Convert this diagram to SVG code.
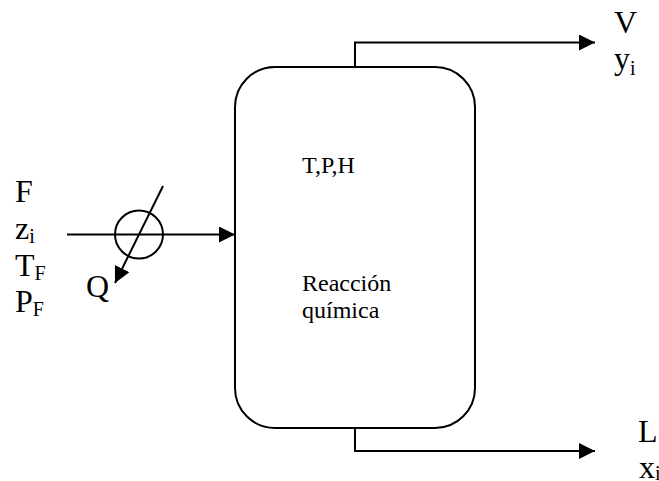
<svg xmlns="http://www.w3.org/2000/svg" width="659" height="481" viewBox="0 0 659 481">
<style>
text{font-family:"Liberation Serif","Times New Roman",serif;fill:#000}
.l{font-size:32px}.s{font-size:24px}.m{font-size:20px}
.c{fill:none;stroke:#000;stroke-width:2}
</style>
<defs><marker id="a" markerUnits="userSpaceOnUse" markerWidth="16" markerHeight="16" refX="16" refY="8" orient="auto"><path d="M0 0L16 8L0 16Z" fill="#000"/></marker></defs>
<rect width="659" height="481" fill="#fff"/>
<g id="reactor"><rect class="c" x="235" y="67" width="240" height="361" rx="40" ry="40"/>
<text x="302" y="173" class="s">T,P,H</text><text x="302" y="291" class="s">Reacción</text><text x="302" y="318" class="s">química</text></g>
<g id="heater"><circle class="c" cx="139" cy="234.500" r="24"/></g>
<g id="connectors">
<path class="c" d="M67 234.500H235" marker-end="url(#a)"/>
<path class="c" d="M355 66V42.500H595" marker-end="url(#a)"/>
<path class="c" d="M355 428V451H595" marker-end="url(#a)"/>
<path class="c" d="M163 186L115 283" marker-end="url(#a)"/>
</g>
<g id="feed"><text x="15" y="202" class="l">F</text><text x="15" y="239" class="l">z<tspan class="m" dy="4">i</tspan></text><text x="15" y="276" class="l">T<tspan class="m" dy="4">F</tspan></text><text x="15" y="312" class="l">P<tspan class="m" dy="4">F</tspan></text></g>
<g id="q"><text x="86" y="297" class="l">Q</text></g>
<g id="vapor"><text x="614" y="33" class="l">V</text><text x="614" y="69" class="l">y<tspan class="m" dy="6">i</tspan></text></g>
<g id="liquid"><text x="638" y="442" class="l">L</text><text x="639" y="478" class="l">x<tspan class="m" dy="2">i</tspan></text></g>
</svg>
